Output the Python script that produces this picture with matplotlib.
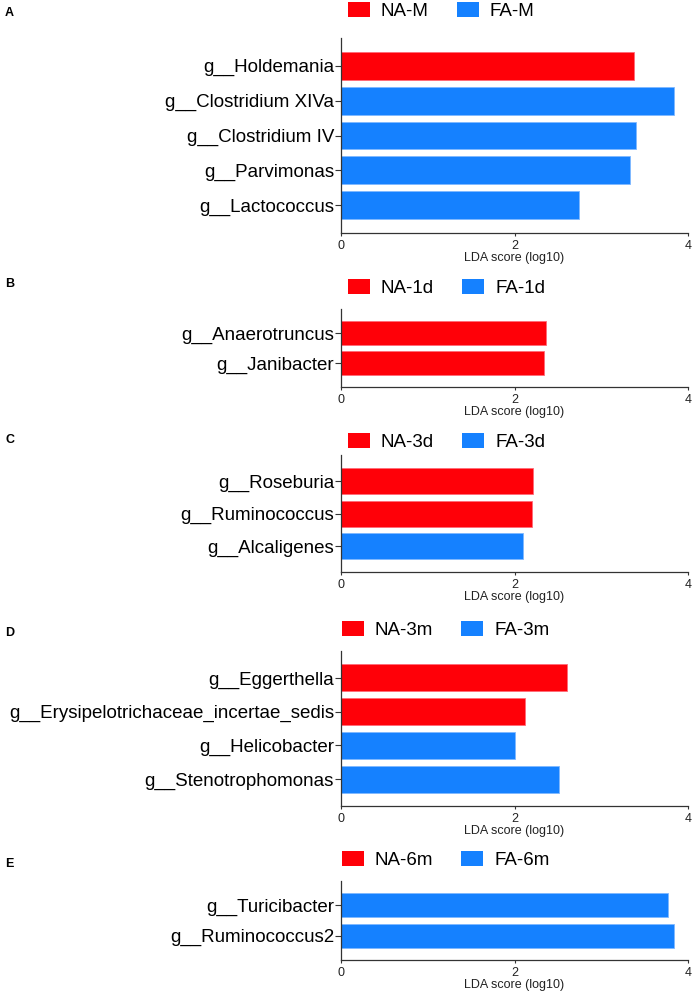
import matplotlib
matplotlib.use("Agg")
import matplotlib.pyplot as plt
from matplotlib.patches import Patch

plt.rcParams['font.family'] = ['Liberation Sans', 'DejaVu Sans']

RED = '#FF0008'
BLUE = '#1581FF'
RED_EDGE = '#FF6A78'
BLUE_EDGE = '#7FB8FF'

# ---- data ----
a_taxa = ['g__Holdemania', 'g__Clostridium XIVa', 'g__Clostridium IV', 'g__Parvimonas', 'g__Lactococcus']
a_lda = [3.38, 3.84, 3.40, 3.33, 2.74]
a_group = ['NA', 'FA', 'FA', 'FA', 'FA']
a_legend = ['NA-M', 'FA-M']

b_taxa = ['g__Anaerotruncus', 'g__Janibacter']
b_lda = [2.36, 2.34]
b_group = ['NA', 'NA']
b_legend = ['NA-1d', 'FA-1d']

c_taxa = ['g__Roseburia', 'g__Ruminococcus', 'g__Alcaligenes']
c_lda = [2.21, 2.20, 2.10]
c_group = ['NA', 'NA', 'FA']
c_legend = ['NA-3d', 'FA-3d']

d_taxa = ['g__Eggerthella', 'g__Erysipelotrichaceae_incertae_sedis', 'g__Helicobacter', 'g__Stenotrophomonas']
d_lda = [2.61, 2.12, 2.01, 2.51]
d_group = ['NA', 'NA', 'FA', 'FA']
d_legend = ['NA-3m', 'FA-3m']

e_taxa = ['g__Turicibacter', 'g__Ruminococcus2']
e_lda = [3.77, 3.84]
e_group = ['FA', 'FA']
e_legend = ['NA-6m', 'FA-6m']

panel_letters = ['A', 'B', 'C', 'D', 'E']
x_ticks = [0, 2, 4]
x_label = 'LDA score (log10)'

W, H = 694, 992
fig = plt.figure(figsize=(W / 100, H / 100), dpi=100)

# layout in pixels: (axes top, axes bottom, legend y, legend x, letter y)
layout = [
    (37.7, 233.3, 11, 348, 12.7),
    (309, 387, 288, 348, 284),
    (455, 572, 442, 348, 440),
    (651, 806, 630, 342, 633),
    (881, 960, 860, 342, 864),
]

panels = [
    (a_taxa, a_lda, a_group, a_legend),
    (b_taxa, b_lda, b_group, b_legend),
    (c_taxa, c_lda, c_group, c_legend),
    (d_taxa, d_lda, d_group, d_legend),
    (e_taxa, e_lda, e_group, e_legend),
]

ax_left = 341 / W
ax_width = (688 - 341) / W
FS = 13.5

for (taxa, lda, group, leg), (top, bot, ly, lx, lety), letter in zip(panels, layout, panel_letters):
    ax = fig.add_axes([ax_left, 1 - bot / H, ax_width, (bot - top) / H])
    n = len(taxa)
    ypos = list(range(n))
    colors = [RED if g == 'NA' else BLUE for g in group]
    edges = [RED_EDGE if g == 'NA' else BLUE_EDGE for g in group]
    ax.barh(ypos, lda, height=0.8, color=colors, edgecolor=edges, linewidth=0.6)
    ax.set_ylim(n - 0.2, -0.8)
    ax.set_xlim(0, 4)
    ax.set_yticks(ypos)
    ax.set_yticklabels(taxa, fontsize=FS)
    ax.set_xticks(x_ticks)
    ax.set_xticklabels([str(t) for t in x_ticks], fontsize=9, color='#222222')
    ax.set_xlabel(x_label, fontsize=9, labelpad=0, color='#222222')
    for s in ['top', 'right']:
        ax.spines[s].set_visible(False)
    for s in ['left', 'bottom']:
        ax.spines[s].set_color('#333333')
        ax.spines[s].set_linewidth(0.9)
    ax.tick_params(axis='y', length=4, width=0.8, pad=1, color='#333333')
    ax.tick_params(axis='x', length=2, width=0.8, pad=3, color='#333333')

    handles = [Patch(facecolor=RED, edgecolor='none'), Patch(facecolor=BLUE, edgecolor='none')]
    fig.legend(handles, leg, loc='center left', bbox_to_anchor=(lx / W, 1 - ly / H),
               bbox_transform=fig.transFigure, ncol=2, frameon=False, fontsize=FS,
               handlelength=1.17, handleheight=0.8, handletextpad=0.59,
               columnspacing=1.49, borderpad=0, borderaxespad=0)

    fig.text(5 / W, 1 - lety / H, letter, fontsize=9, fontweight='bold', va='center', ha='left')

fig.savefig('out.png', dpi=100)
